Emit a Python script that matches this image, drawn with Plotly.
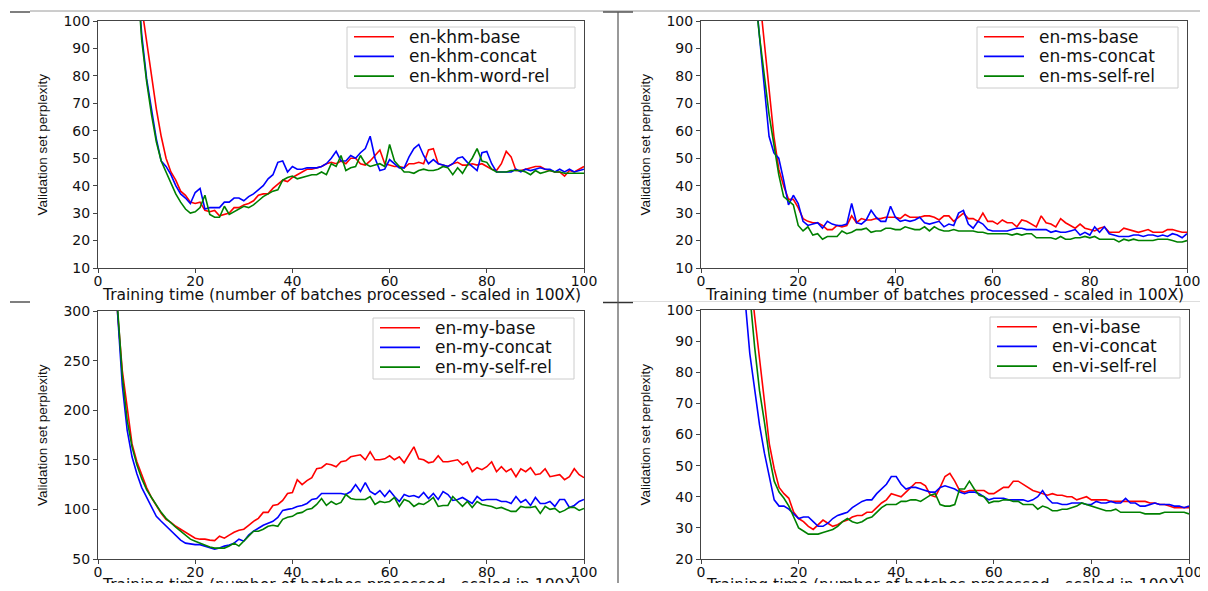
import plotly.graph_objects as go

# page is 1208x591; the browser keeps its default 8px body margin,
# so the figure is 16px smaller and everything is laid out in page pixels.
PAGE_W, PAGE_H = 1208, 591
OFF = 8
W, H = PAGE_W - 2 * OFF, PAGE_H - 2 * OFF


def fx(px):
    return (px - OFF) / W


def fy(py):
    return 1 - (py - OFF) / H


X_TITLE = "Training time (number of batches processed - scaled in 100X)"
Y_TITLE = "Validation set perplexity"
X_TICKS = [0, 20, 40, 60, 80, 100]
COLORS = ["#ff0000", "#0000ff", "#008000"]

# ---------------- en-khm (x = 7 .. 100) ----------------
khm_start = 7
khm_names = ["en-khm-base", "en-khm-concat", "en-khm-word-rel"]
khm_base = [160, 125, 105, 92, 80, 68, 58, 50, 45, 42,
            38, 36.5, 34, 33.5, 34, 31, 30.5, 31, 29, 29.5,
            30, 32, 32, 33, 33.5, 34.5, 36.5, 37, 37, 39,
            40.5, 42, 41.5, 43, 44, 45, 46, 46, 46.5, 47,
            48, 48.5, 48, 49, 48, 50, 50, 48, 47.5, 49,
            51, 53, 48, 47.5, 47, 47, 46.5, 48, 48, 48.5,
            48, 53, 53.5, 48, 47.5, 47, 48, 48.5, 47.5, 47.5,
            48, 47.5, 48, 47, 46, 45.5, 48, 52.5, 50.5, 45.5,
            45.5, 46, 46.5, 47, 47, 46, 45.5, 45, 45, 43.5,
            45.5, 45, 46, 47]
khm_concat = [150, 118, 95, 79, 68, 57, 49, 47, 44, 40,
              37, 35.5, 33.5, 37.5, 39, 31.5, 32, 32, 32, 34,
              34, 35.5, 35.5, 34.5, 36, 37, 38.5, 40, 42.5, 44,
              48.5, 49, 45, 47, 46, 46, 46.5, 46.5, 46.5, 47,
              48, 50, 52.5, 49, 49, 51, 50, 52, 53.5, 58,
              50, 45.5, 46, 49.5, 48, 46.5, 46.5, 50.5, 53.5, 55,
              51, 48, 49.5, 48, 47.5, 47, 48, 50, 50.5, 48.5,
              47, 45.5, 52, 52.5, 48, 45, 45, 45, 45, 46,
              45, 46, 45.5, 46, 46.5, 46, 46, 45, 46, 45,
              46, 45, 45.5, 46]
khm_wordrel = [150, 118, 93, 78, 66, 56, 49, 45, 41, 37,
               34, 31.5, 30, 30.5, 32, 36.5, 29.5, 28.5, 28.5, 32.5,
               29.5, 30.5, 31.5, 32.5, 32, 33, 34.5, 36, 37, 38,
               38.5, 42, 43, 43.5, 42.5, 43, 43.5, 44, 44, 45,
               44, 48, 47, 51, 45.5, 46.5, 47, 51, 48, 47,
               47.5, 48, 47, 55, 49, 47, 45, 45, 44.5, 45.5,
               46, 45.5, 45.5, 46, 47, 46.5, 44, 46.5, 44.5, 47.5,
               50, 53.5, 49, 48.5, 46, 45, 45, 45, 45.5, 45.5,
               45.5, 45, 44, 45.5, 44.5, 45, 45.5, 45, 45, 44.5,
               44.5, 44.5, 44.5, 44.5]

# ---------------- en-ms (x = 10 .. 100) ----------------
ms_start = 10
ms_names = ["en-ms-base", "en-ms-concat", "en-ms-self-rel"]
ms_base = [160, 130, 110, 92, 75, 58, 46, 40, 35, 35,
           32, 28, 27, 26.5, 26.5, 25.5, 24, 24, 25.5, 25,
           25.5, 29, 26.5, 28, 27.5, 27.5, 28, 28, 28.5, 28.5,
           28.5, 28, 29.5, 28.5, 28.5, 28.5, 29, 29, 28.5, 27.5,
           29, 29, 27, 28.5, 30, 28, 28, 27, 30, 27,
           27, 26, 27.5, 26.5, 26.5, 25, 27.5, 27, 26, 25,
           29, 26.5, 26, 25, 28, 26.5, 25.5, 24.5, 26, 24.5,
           24, 23.5, 24.5, 25, 23, 23, 23, 24.5, 24, 23.5,
           23, 23.5, 24, 23, 23, 23, 24, 24, 23.5, 23,
           23]
ms_concat = [150, 115, 95, 75, 58, 52, 50, 42, 33, 36.5,
             33.5, 27, 25.5, 26, 26.5, 24.5, 27, 26, 25.5, 25.5,
             26, 33.5, 26.5, 26, 27.5, 31, 28.5, 27, 27, 32.5,
             28.5, 27, 27.5, 27, 27.5, 28.5, 26.5, 26, 26.5, 27,
             25, 26, 25.5, 30, 31, 26, 24.5, 27, 26, 24,
             23.5, 23.5, 23.5, 23.5, 24, 24.5, 24.5, 24, 24, 24,
             24, 24, 23, 23.5, 23, 23, 23.5, 24, 22, 23,
             22, 25, 23, 25, 22.5, 22, 21.5, 21.5, 21.5, 22,
             22, 21.5, 22, 22, 21.5, 22, 21.5, 22.5, 22, 21,
             22.5]
ms_selfrel = [150, 112, 95, 80, 66, 55, 44, 36, 34.5, 33,
              25.5, 23.5, 25, 22, 22.5, 20.5, 21.5, 21.5, 21.5, 23.5,
              22.5, 23, 24, 24, 24.5, 23, 23.5, 23.5, 24.5, 24.5,
              24, 24, 25, 24.5, 24, 24, 25, 23.5, 25, 24,
              23.5, 23.5, 24, 23.5, 23.5, 23.5, 23.5, 23, 23, 22.5,
              22.5, 22.5, 22.5, 22.5, 22, 22.5, 22, 22.5, 22.5, 21,
              21, 21, 21, 20.5, 21.5, 20.5, 20.5, 21, 21, 21.5,
              21, 21.5, 20.5, 20.5, 20.5, 20.5, 19.5, 20.5, 20, 20.5,
              20, 20, 20, 20, 20.5, 20.5, 20.5, 20, 19.5, 19.5,
              20]

# ---------------- en-my (x = 3 .. 100) ----------------
my_start = 3
my_names = ["en-my-base", "en-my-concat", "en-my-self-rel"]
my_base = [420, 300, 240, 200, 166, 148, 134, 122, 112, 104,
           96, 90, 87, 83, 80, 77, 74, 71, 70, 70,
           69, 68.5, 73, 71, 74, 77, 79, 80, 84, 88,
           91, 97, 97, 104, 105, 109, 116, 117, 130, 125,
           129, 132, 141, 142, 146, 145, 143, 148, 149, 153,
           154, 155, 150, 158, 150, 150, 151, 154, 150, 153,
           147, 155, 163, 151, 150, 147, 148, 154, 148, 148,
           149, 150, 145, 148, 138, 142, 140, 143, 148, 138,
           143, 138, 141, 133, 141, 138, 142, 135, 136, 141,
           133, 134, 135, 130, 133, 141, 135, 132]
my_concat = [420, 300, 225, 180, 153, 136, 122, 112, 103, 93,
             88, 83, 78, 73, 69, 66, 65, 64.5, 64.5, 63,
             62, 60, 61, 63, 64, 66, 70, 68, 74, 78,
             81, 84, 86, 88, 92, 99, 100, 101, 103, 104,
             106, 110, 111, 116, 116, 116, 116, 116, 115, 118,
             125, 118, 127, 118, 115, 119, 113, 119, 113, 108,
             115, 113, 114, 112, 117, 111, 116, 110, 118, 115,
             109, 110, 112, 109, 106, 113, 109, 110, 110, 110,
             108, 108, 106, 113, 107, 110, 104, 112, 106, 106,
             108, 103, 110, 110, 102, 104, 108, 110]
my_selfrel = [420, 305, 235, 190, 163, 145, 131, 120, 112, 104,
              97, 91, 86, 82, 78, 74, 70, 68, 66, 64,
              62, 61, 61, 61, 63, 66, 63, 68, 74, 78,
              78, 80, 83, 84, 83, 90, 92, 93, 96, 97,
              100, 101, 105, 111, 104, 108, 105, 107, 115, 111,
              110, 110, 110, 113, 105, 108, 107, 108, 112, 103,
              110, 108, 103, 106, 105, 108, 112, 103, 104, 104,
              113, 108, 103, 108, 102, 108, 105, 104, 103, 101,
              102, 100, 98, 98, 103, 102, 102, 103, 96, 103,
              100, 101, 97, 99, 102, 102, 99, 101]

# ---------------- en-vi (x = 8 .. 100) ----------------
vi_start = 8
vi_names = ["en-vi-base", "en-vi-concat", "en-vi-self-rel"]
vi_base = [160, 135, 112, 98, 84, 70, 57, 49, 43, 41,
           39.5, 35, 33, 32, 30.5, 29.5, 31, 32.5, 31.5, 30.5,
           31, 32, 32.5, 33.5, 34, 34, 35, 35, 36.5, 38,
           39, 41, 40.5, 40, 41.5, 43, 44.5, 44.5, 43.5, 40.5,
           40, 43, 46.5, 47.5, 45, 42, 41.5, 42, 42, 42,
           42, 41, 41, 42, 43, 43, 45, 45, 44, 43,
           42, 41.5, 41, 40.5, 41, 40.5, 40.5, 40, 40, 39,
           39.5, 40, 39, 39, 39, 39, 38.5, 38.5, 38.5, 38.5,
           38.5, 38.5, 38.5, 38.5, 38, 38, 37.5, 37.5, 37, 36.5,
           36.5, 36.5, 36.5]
vi_concat = [130, 104, 86, 74, 63, 54, 46, 39, 37, 37,
             36, 34.5, 33, 33.5, 33.5, 32, 30.5, 30.5, 31.5, 33,
             34, 34.5, 35, 36.5, 37.5, 38.5, 39, 39, 41, 42.5,
             44, 46.5, 46.5, 44, 42.5, 43, 43, 42.5, 42, 41.5,
             41.5, 43, 43.5, 43, 42.5, 41.5, 41, 41.5, 41.5, 41,
             40, 39, 39.5, 39.5, 39.5, 39, 39, 39, 39, 38.5,
             39, 40, 42, 39.5, 38, 38, 37.5, 37.5, 38, 38,
             38, 37.5, 37.5, 38.5, 38, 38, 38.5, 38, 38, 39.5,
             38, 38, 37, 37, 37.5, 38, 37.5, 37.5, 37.5, 37,
             37, 36.5, 37]
vi_selfrel = [150, 125, 105, 88, 74, 64, 53, 45, 41.5, 39.5,
              37, 33.5, 30, 29, 28, 28, 28, 28.5, 29, 29.5,
              30.5, 32, 33, 32, 31.5, 32, 33, 33.5, 35, 36.5,
              37.5, 37.5, 37.5, 38.5, 38.5, 39, 39, 38.5, 39.5, 40.5,
              41, 37.5, 37, 37, 37.5, 42.5, 42.5, 45, 42.5, 40.5,
              40, 38, 38.5, 38.5, 39, 39, 38.5, 38.5, 37.5, 37.5,
              37.5, 36, 37, 36.5, 35.5, 35.5, 36, 36, 36.5, 37,
              38, 37.5, 37, 36.5, 36, 35.5, 35.5, 36, 35, 35,
              35, 35, 35, 34.5, 34.5, 34.5, 34.5, 35, 35, 35,
              35, 35, 34.5]

# panel geometry in page pixels: plot box (x0, y0, x1, y1), legend box (x0, y0, x1, y1)
panels = [
    dict(names=khm_names, series=[khm_base, khm_concat, khm_wordrel], start=khm_start,
         yrange=(10, 100), dtick=10, box=(98, 21, 584, 268),
         legbox=(347, 27, 575, 88), ytitle_x=42, xtitle_y=295),
    dict(names=ms_names, series=[ms_base, ms_concat, ms_selfrel], start=ms_start,
         yrange=(10, 100), dtick=10, box=(701, 21, 1187, 268),
         legbox=(977, 27, 1178, 88), ytitle_x=645, xtitle_y=295),
    dict(names=my_names, series=[my_base, my_concat, my_selfrel], start=my_start,
         yrange=(50, 300), dtick=50, box=(98, 311, 584, 559),
         legbox=(373, 318, 574, 379), ytitle_x=42, xtitle_y=585),
    dict(names=vi_names, series=[vi_base, vi_concat, vi_selfrel], start=vi_start,
         yrange=(20, 100), dtick=10, box=(701, 310, 1189, 559),
         legbox=(990, 317, 1180, 378), ytitle_x=645, xtitle_y=585),
]

TICK_FONT = dict(family="DejaVu Sans", size=14, color="#111111")
AXIS_COLOR = "#444444"
TEXT_COLOR = "#111111"

fig = go.Figure()
layout = dict(
    width=W, height=H, autosize=False,
    margin=dict(l=0, r=0, t=0, b=0, autoexpand=False),
    paper_bgcolor="white", plot_bgcolor="white",
    showlegend=False,
)
annotations = []
shapes = []

for i, p in enumerate(panels, start=1):
    suffix = "" if i == 1 else str(i)
    xref = "x" + suffix
    yref = "y" + suffix
    x0, y0, x1, y1 = p["box"]
    for name, vals, col in zip(p["names"], p["series"], COLORS):
        xs = list(range(p["start"], p["start"] + len(vals)))
        fig.add_trace(go.Scatter(x=xs, y=vals, mode="lines", name=name,
                                 line=dict(color=col, width=1.6),
                                 xaxis=xref, yaxis=yref, hoverinfo="skip"))
    layout["xaxis" + suffix] = dict(
        domain=[fx(x0), fx(x1)], anchor=yref, range=[0, 100],
        tickvals=X_TICKS, ticks="outside", ticklen=4, tickcolor=AXIS_COLOR,
        ticklabelstandoff=-4, ticklabeloverflow="allow",
        showline=True, mirror=True, linecolor=AXIS_COLOR, linewidth=1,
        showgrid=False, zeroline=False, tickfont=TICK_FONT, fixedrange=True,
    )
    layout["yaxis" + suffix] = dict(
        domain=[fy(y1), fy(y0)], anchor=xref, range=list(p["yrange"]),
        dtick=p["dtick"], tick0=p["yrange"][0], ticks="outside", ticklen=4,
        tickcolor=AXIS_COLOR, showline=True, mirror=True, linecolor=AXIS_COLOR,
        ticklabeloverflow="allow",
        linewidth=1, showgrid=False, zeroline=False, tickfont=TICK_FONT, fixedrange=True,
    )
    # axis titles
    annotations.append(dict(
        text=X_TITLE, x=fx((x0 + x1) / 2), y=fy(p["xtitle_y"]),
        xref="paper", yref="paper", xanchor="center", yanchor="middle",
        showarrow=False, font=dict(family="DejaVu Sans", size=15.5, color=TEXT_COLOR),
    ))
    annotations.append(dict(
        text=Y_TITLE, x=fx(p["ytitle_x"]), y=fy((y0 + y1) / 2),
        xref="paper", yref="paper", xanchor="center", yanchor="middle",
        textangle=-90, showarrow=False,
        font=dict(family="Liberation Sans", size=13.5, color=TEXT_COLOR),
    ))
    # legend (matplotlib-style framed box)
    lx0, ly0, lx1, ly1 = p["legbox"]
    shapes.append(dict(type="rect", xref="paper", yref="paper",
                       x0=fx(lx0), x1=fx(lx1), y0=fy(ly1), y1=fy(ly0),
                       fillcolor="rgba(255,255,255,0.85)",
                       line=dict(color="#cccccc", width=1)))
    for k, (name, col) in enumerate(zip(p["names"], COLORS)):
        ry = ly0 + 9.7 + 19.7 * k
        shapes.append(dict(type="line", xref="paper", yref="paper",
                           x0=fx(lx0 + 7), x1=fx(lx0 + 47), y0=fy(ry), y1=fy(ry),
                           line=dict(color=col, width=1.6)))
        annotations.append(dict(
            text=name, x=fx(lx0 + 60), y=fy(ry), xref="paper", yref="paper",
            xanchor="left", yanchor="middle", showarrow=False,
            font=dict(family="DejaVu Sans", size=17, color=TEXT_COLOR),
        ))


# screenshot separator lines
def hline(xa, xb, y, color, width):
    shapes.append(dict(type="line", xref="paper", yref="paper",
                       x0=fx(xa), x1=fx(xb), y0=fy(y), y1=fy(y),
                       line=dict(color=color, width=width)))


hline(30, 1200, 11, "#9a9a9a", 1)
hline(10, 30, 12, "#555555", 1.5)
hline(603, 633, 12, "#555555", 1.5)
hline(633, 1200, 301.5, "#dddddd", 1)
hline(10, 30, 302, "#555555", 1.5)
hline(603, 633, 302.5, "#333333", 1.5)
shapes.append(dict(type="line", xref="paper", yref="paper",
                   x0=fx(618), x1=fx(618), y0=fy(12), y1=0,
                   line=dict(color="#555555", width=1.2)))

layout["annotations"] = annotations
layout["shapes"] = shapes
fig.update_layout(**layout)

fig.write_html("out.html", config={"displayModeBar": False})
